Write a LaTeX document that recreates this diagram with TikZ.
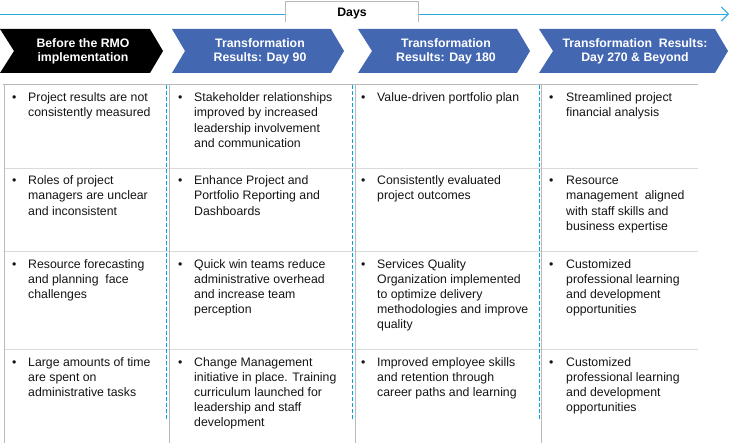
\documentclass[tikz,border=0pt]{standalone}
\usepackage{fontspec}
\setmainfont{Liberation Sans}
\usetikzlibrary{arrows.meta}
\definecolor{chev}{RGB}{68,103,178}
\definecolor{skyline}{RGB}{41,171,226}
\definecolor{dashblue}{RGB}{0,162,232}
\definecolor{gridgray}{RGB}{185,185,185}
\definecolor{rowgray}{RGB}{218,218,218}
\definecolor{bodytext}{RGB}{20,20,20}
\begin{document}
\begin{tikzpicture}[x=1pt,y=-1pt,
  chevtext/.style={text=white,font=\fontsize{12.3}{13.5}\selectfont\bfseries,align=center,inner sep=0pt},
  celltext/.style={anchor=north west,inner sep=0pt,align=left,text=bodytext,font=\fontsize{12.3}{15.2}\selectfont},
  bulletmark/.style={anchor=north west,inner sep=0pt,text=bodytext,font=\fontsize{12.3}{15.2}\selectfont},
  gridline/.style={draw=gridgray,line width=0.9pt},
  rowline/.style={draw=rowgray,line width=0.9pt},
  dashline/.style={draw=dashblue,line width=1pt,dash pattern=on 4pt off 2pt},
  timeline/.style={draw=skyline,line width=0.9pt}
]
\useasboundingbox (0,0) rectangle (731,446);

% timeline and Days tab
\coordinate (tlA) at (0,14);
\coordinate (tlB) at (285,14);
\coordinate (tlC) at (418,14);
\coordinate (tlD) at (729,14);
\draw[timeline] (tlA) -- (tlB);
\draw[timeline,-{Straight Barb[length=7pt,width=14pt,line width=0.9pt]}] (tlC) -- (tlD);
\draw[gridline] (285,22) -- (285,1) -- (418,1) -- (418,22);
\node[font=\fontsize{12.3}{14}\selectfont\bfseries,inner sep=0pt] (days) at (352,14) {Days};

% chevrons
\fill[black] (0,29) -- (150,29) -- (163,51) -- (150,73) -- (0,73) -- (14,51) -- cycle;
\fill[chev] (172,29) -- (331,29) -- (344,51) -- (331,73) -- (172,73) -- (185,51) -- cycle;
\fill[chev] (358,29) -- (517,29) -- (530,51) -- (517,73) -- (358,73) -- (372,51) -- cycle;
\fill[chev] (539,29) -- (715,29) -- (728,51) -- (715,73) -- (539,73) -- (553,51) -- cycle;
\node[chevtext] (h1) at (83,51.5) {Before the RMO\\implementation};
\node[chevtext] (h2) at (260,51.5) {Transformation\\Results: Day 90};
\node[chevtext] (h3) at (446,51.5) {Transformation\\Results: Day 180};
\node[chevtext] (h4) at (635,51.5) {Transformation\ \ Results:\\Day 270 \& Beyond};

% grid
\draw[gridline] (3,84) -- (698,84);
\draw[rowline] (4,168) -- (698,168);
\draw[rowline] (4,251) -- (698,251);
\draw[rowline] (4,349) -- (698,349);
\foreach \gx in {4,169,355,541} \draw[gridline] (\gx,84) -- (\gx,443);
\foreach \dx in {166,352,539} \draw[dashline] (\dx,85) -- (\dx,420);

% cells: bullets
\foreach \bx/\cn in {12/a,178/b,361/c,549/d}{
  \foreach \by/\rn in {90.8/1,173.8/2,257.3/3,355.3/4}{
    \node[bulletmark] (bul\cn\rn) at (\bx,\by) {\strut\textbullet};
  }
}

% column 1
\node[celltext] (a1) at (28,90.8) {\strut Project results are not\\consistently measured};
\node[celltext] (a2) at (28,173.8) {\strut Roles of project\\managers are unclear\\and inconsistent};
\node[celltext] (a3) at (28,257.3) {\strut Resource forecasting\\and planning\ \ face\\challenges};
\node[celltext] (a4) at (28,355.3) {\strut Large amounts of time\\are spent on\\administrative tasks};

% column 2
\node[celltext] (b1) at (194,90.8) {\strut Stakeholder relationships\\improved by increased\\leadership involvement\\and communication};
\node[celltext] (b2) at (194,173.8) {\strut Enhance Project and\\Portfolio Reporting and\\Dashboards};
\node[celltext] (b3) at (194,257.3) {\strut Quick win teams reduce\\administrative overhead\\and increase team\\perception};
\node[celltext] (b4) at (194,355.3) {\strut Change Management\\initiative in place. Training\\curriculum launched for\\leadership and staff\\development};

% column 3
\node[celltext] (c1) at (377,90.8) {\strut Value-driven portfolio plan};
\node[celltext] (c2) at (377,173.8) {\strut Consistently evaluated\\project outcomes};
\node[celltext] (c3) at (377,257.3) {\strut Services Quality\\Organization implemented\\to optimize delivery\\methodologies and improve\\quality};
\node[celltext] (c4) at (377,355.3) {\strut Improved employee skills\\and retention through\\career paths and learning};

% column 4
\node[celltext] (d1) at (566,90.8) {\strut Streamlined project\\financial analysis};
\node[celltext] (d2) at (566,173.8) {\strut Resource\\management\ \ aligned\\with staff skills and\\business expertise};
\node[celltext] (d3) at (566,257.3) {\strut Customized\\professional learning\\and development\\opportunities};
\node[celltext] (d4) at (566,355.3) {\strut Customized\\professional learning\\and development\\opportunities};
\end{tikzpicture}
\end{document}
